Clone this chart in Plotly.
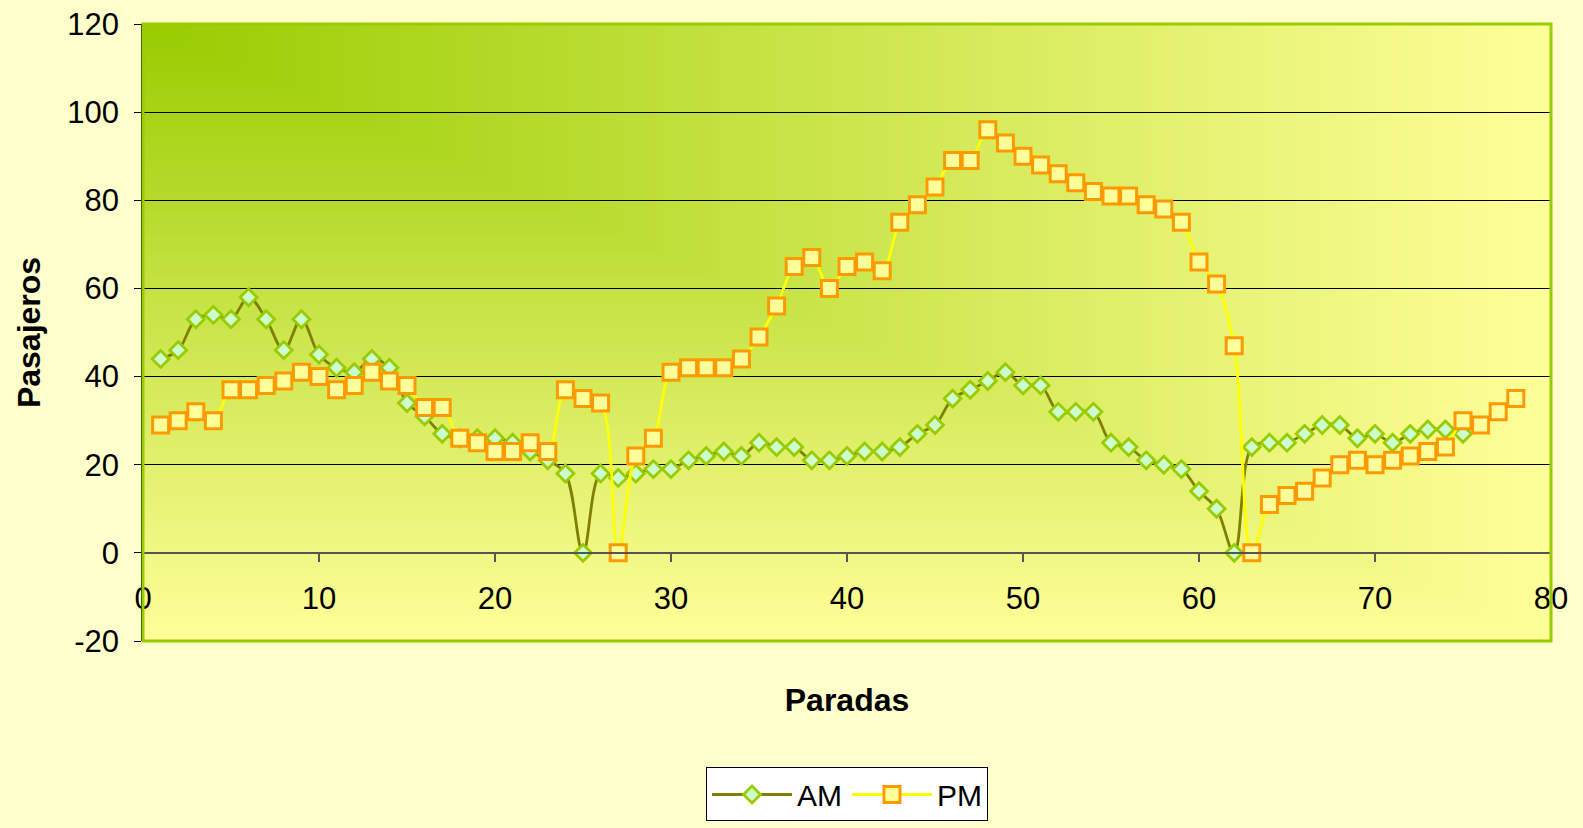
import base64
import struct
import zlib

import numpy as np
import plotly.graph_objects as go

# ---------------- data ----------------
am_x = list(range(1, 76))
am_y = [44, 46, 53, 54, 53, 58, 53, 46, 53, 45,
        42, 41, 44, 42, 34, 31, 27, 26, 26, 26,
        25, 23, 21, 18, 0, 18, 17, 18, 19, 19,
        21, 22, 23, 22, 25, 24, 24, 21, 21, 22,
        23, 23, 24, 27, 29, 35, 37, 39, 41, 38,
        38, 32, 32, 32, 25, 24, 21, 20, 19, 14,
        10, 0, 24, 25, 25, 27, 29, 29, 26, 27,
        25, 27, 28, 28, 27]

pm_x = list(range(1, 79))
pm_y = [29, 30, 32, 30, 37, 37, 38, 39, 41, 40,
        37, 38, 41, 39, 38, 33, 33, 26, 25, 23,
        23, 25, 23, 37, 35, 34, 0, 22, 26, 41,
        42, 42, 42, 44, 49, 56, 65, 67, 60, 65,
        66, 64, 75, 79, 83, 89, 89, 96, 93, 90,
        88, 86, 84, 82, 81, 81, 79, 78, 75, 66,
        61, 47, 0, 11, 13, 14, 17, 20, 21, 20,
        21, 22, 23, 24, 30, 29, 32, 35]

y_ticks = [-20, 0, 20, 40, 60, 80, 100, 120]
y_tick_text = ["-20", "0", "20", "40", "60", "80", "100", "120"]
x_ticks = [0, 10, 20, 30, 40, 50, 60, 70, 80]


# ------------- gradient background (plot area) -------------
def gradient_png(w, h, c0, c1):
    u = np.linspace(0, 1, w)[None, :]
    v = np.linspace(0, 1, h)[:, None]
    t = np.maximum(u, v)
    c0 = np.array(c0, dtype=float)
    c1 = np.array(c1, dtype=float)
    img = (c0[None, None, :] + t[..., None] * (c1 - c0)[None, None, :])
    img = np.clip(np.round(img), 0, 255).astype(np.uint8)
    raw = b"".join(b"\x00" + img[r].tobytes() for r in range(h))

    def chunk(tag, data):
        c = struct.pack(">I", len(data)) + tag + data
        return c + struct.pack(">I", zlib.crc32(tag + data) & 0xFFFFFFFF)

    png = b"\x89PNG\r\n\x1a\n"
    png += chunk(b"IHDR", struct.pack(">IIBBBBB", w, h, 8, 2, 0, 0, 0))
    png += chunk(b"IDAT", zlib.compress(raw, 9))
    png += chunk(b"IEND", b"")
    return "data:image/png;base64," + base64.b64encode(png).decode()


bg_src = gradient_png(704, 309, (153, 204, 0), (255, 255, 153))

FONT = "Arial, 'Liberation Sans', sans-serif"

fig = go.Figure()
fig.add_trace(go.Scatter(
    x=am_x, y=am_y, name="AM", mode="lines+markers",
    line=dict(color="#808000", width=2.8, shape="spline", smoothing=1),
    marker=dict(symbol="diamond", size=13, color="#CCFFCC",
                line=dict(color="#99CC00", width=2.8)),
))
fig.add_trace(go.Scatter(
    x=pm_x, y=pm_y, name="PM", mode="lines+markers",
    line=dict(color="#FFFF00", width=2.8, shape="spline", smoothing=1),
    marker=dict(symbol="square", size=16, color="#FFFF99",
                line=dict(color="#FF9900", width=3)),
))

fig.update_layout(
    width=1583, height=828,
    margin=dict(l=143, r=32, t=24, b=187, autoexpand=False),
    paper_bgcolor="#FFFFCC",
    plot_bgcolor="rgba(0,0,0,0)",
    font=dict(family=FONT, color="#000000", size=31),
    images=[dict(source=bg_src, xref="paper", yref="paper", x=0, y=1,
                 sizex=1, sizey=1, xanchor="left", yanchor="top",
                 sizing="stretch", layer="below")],
    shapes=[dict(type="rect", xref="paper", yref="paper", x0=0, x1=1,
                 y0=0, y1=1, line=dict(color="#99CC00", width=3),
                 layer="above")],
    xaxis=dict(
        range=[0, 80], tickvals=x_ticks, showgrid=False, zeroline=False,
        anchor="free", position=20 / 140, automargin=False,
        showline=True, linecolor="#555555", linewidth=1.5,
        ticks="outside", ticklen=8, tickcolor="#555555", tickwidth=1.5,
        ticklabelstandoff=10,
        tickfont=dict(size=31, family=FONT),
        title=dict(text="<b>Paradas</b>", font=dict(size=32, family=FONT),
                   standoff=73),
    ),
    yaxis=dict(
        range=[-20, 120], tickvals=y_ticks, ticktext=y_tick_text,
        automargin=False,
        showgrid=True, gridcolor="#000000", gridwidth=1, zeroline=False,
        showline=True, linecolor="#000000", linewidth=1.5,
        ticks="outside", ticklen=7, tickcolor="#000000",
        ticklabelstandoff=9,
        tickfont=dict(size=31, family=FONT),
        title=dict(text="<b>Pasajeros</b>", font=dict(size=32, family=FONT),
                   standoff=17),
    ),
    legend=dict(
        orientation="h", x=0.5, xanchor="center", y=-0.205, yanchor="top",
        bgcolor="#FFFFFF", bordercolor="#000000", borderwidth=1,
        font=dict(size=30, family=FONT), itemwidth=80,
    ),
    showlegend=True,
)

fig.write_html("out.html",
               config={"displayModeBar": False},
               post_script="document.body.style.margin='0';"
                           "document.body.style.overflow='hidden';")
